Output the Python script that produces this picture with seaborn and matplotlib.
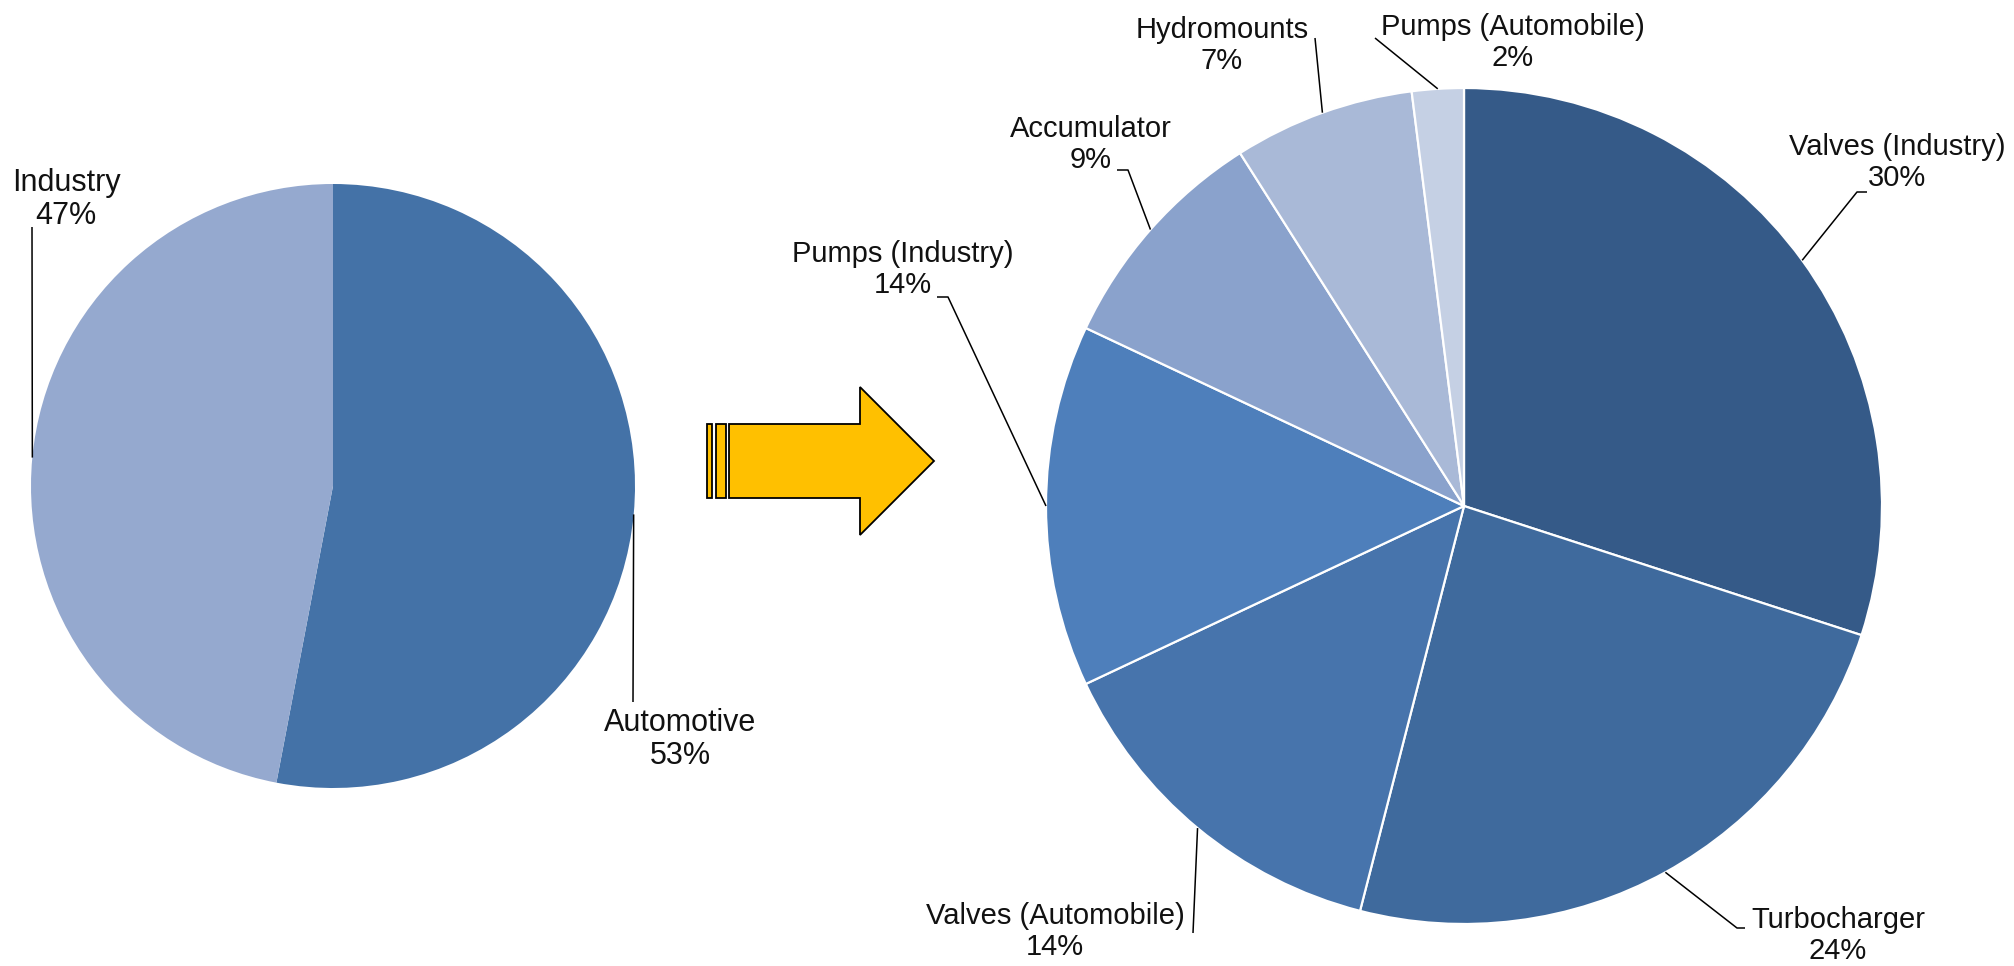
import matplotlib.pyplot as plt
import matplotlib.patches as mpatches
import numpy as np
import seaborn as sns

# left pie: overall split
split_labels = ["Automotive", "Industry"]
split_shares = [53, 47]
split_colors = ["#4472a7", "#95a9cf"]

# right pie: segments, clockwise from 12 o'clock
segment_labels = ["Valves (Industry)", "Turbocharger", "Valves (Automobile)",
                  "Pumps (Industry)", "Accumulator", "Hydromounts", "Pumps (Automobile)"]
segment_shares = [30, 24, 14, 14, 9, 7, 2]
segment_colors = ["#355a88", "#3f6a9d", "#4774ac", "#4e7fbb",
                  "#8aa2cc", "#a9b9d7", "#c5d0e4"]

sns.set_theme(style="white")
plt.rcParams["font.family"] = ["Liberation Sans", "DejaVu Sans"]

W, H = 2014, 966
fig = plt.figure(figsize=(W / 100, H / 100), dpi=100)
ax = fig.add_axes([0, 0, 1, 1])

# pixel-like coordinates, y axis pointing down, so start 270 + ccw = clockwise from top
left_wedges, _ = ax.pie(split_shares, colors=split_colors, center=(333, 486), radius=302,
                        startangle=270, counterclock=True,
                        wedgeprops=dict(linewidth=0))
right_wedges, _ = ax.pie(segment_shares, colors=segment_colors, center=(1464, 506), radius=418,
                         startangle=270, counterclock=True,
                         wedgeprops=dict(edgecolor="white", linewidth=1.6))

# label placement: text (center x, top y) and leader line bends
left_layout = {
    "Automotive": ((680, 708), [(633, 702)]),
    "Industry": ((66, 168), [(32, 227)]),
}
right_layout = {
    "Valves (Industry)": ((1897, 133), [(1857, 192), (1867, 192)]),
    "Turbocharger": ((1838, 906), [(1737, 928), (1745, 928)]),
    "Valves (Automobile)": ((1055, 902), [(1193, 933)]),
    "Pumps (Industry)": ((903, 240), [(948, 297), (937, 297)]),
    "Accumulator": ((1091, 115), [(1128, 170), (1117, 170)]),
    "Hydromounts": ((1222, 16), [(1315, 38)]),
    "Pumps (Automobile)": ((1513, 13), [(1375, 38)]),
}


def add_label(wedge, name, share, text_xy, bends, size):
    mid = np.deg2rad((wedge.theta1 + wedge.theta2) / 2)
    cx, cy = wedge.center
    x0 = cx + wedge.r * np.cos(mid)
    y0 = cy + wedge.r * np.sin(mid)
    ax.plot([x0] + [b[0] for b in bends], [y0] + [b[1] for b in bends],
            color="black", lw=1.1, solid_capstyle="butt")
    ax.text(text_xy[0], text_xy[1], f"{name}\n{share}%", ha="center", va="top",
            fontsize=size, color="#111111", linespacing=1.13)


for w, name, share in zip(left_wedges, split_labels, split_shares):
    add_label(w, name, share, *left_layout[name], size=22)
for w, name, share in zip(right_wedges, segment_labels, segment_shares):
    add_label(w, name, share, *right_layout[name], size=21)

# yellow block arrow between the pies
arrow_style = dict(facecolor="#ffc000", edgecolor="black", linewidth=1.3)
ax.add_patch(mpatches.Rectangle((707, 424), 5, 74, **arrow_style))
ax.add_patch(mpatches.Rectangle((716, 424), 10, 74, **arrow_style))
ax.add_patch(mpatches.Polygon([(729, 424), (860, 424), (860, 387), (934, 461),
                               (860, 535), (860, 498), (729, 498)], closed=True, **arrow_style))

ax.set_xlim(0, W)
ax.set_ylim(H, 0)
ax.set_aspect("equal")
ax.axis("off")

plt.savefig("out.png", dpi=100)
